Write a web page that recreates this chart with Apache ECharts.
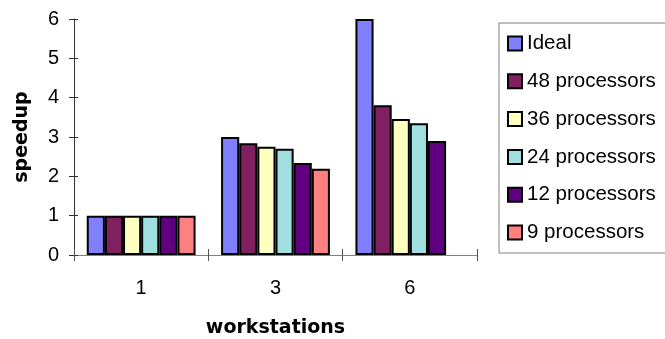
<!DOCTYPE html>
<html>
<head>
<meta charset="utf-8">
<script src="https://cdn.jsdelivr.net/npm/echarts@6/dist/echarts.min.js"></script>
<style>
  html, body { margin: 0; padding: 0; background: #fff; }
  #chart { width: 665px; height: 339px; }
</style>
</head>
<body>
<div id="chart"></div>
<script>
// Workstation counts on the x axis
const workstations = ['1', '3', '6'];

// Speedup per processor configuration
const ideal = [1, 3, 6];
const proc48 = [1, 2.84, 3.81];
const proc36 = [1, 2.75, 3.46];
const proc24 = [1, 2.70, 3.35];
const proc12 = [1, 2.34, 2.90];
const proc9 = [1, 2.19, null];

const seriesNames = ['Ideal', '48 processors', '36 processors', '24 processors', '12 processors', '9 processors'];
const seriesColors = ['#8080FF', '#802060', '#FFFFC0', '#A0E0E0', '#600080', '#FF8080'];
const seriesData = [ideal, proc48, proc36, proc24, proc12, proc9];

const yTicks = { min: 0, max: 6, interval: 1 };

const chart = echarts.init(document.getElementById('chart'), null, { renderer: 'canvas' });

const labelFont = '"Liberation Sans", Arial, sans-serif';
const nameFont = '"DejaVu Sans", sans-serif';

const option = {
  animation: false,
  backgroundColor: '#ffffff',
  grid: { left: 74, right: 188, top: 19, bottom: 84, containLabel: false, outerBoundsMode: 'none' },
  legend: {
    orient: 'vertical',
    left: 499,
    top: 23,
    padding: [10, 40, 10, 8],
    itemWidth: 14,
    itemHeight: 14,
    itemGap: 16.8,
    itemTextGap: 5,
    backgroundColor: '#ffffff',
    borderColor: '#808080',
    borderWidth: 1,
    borderRadius: 0,
    icon: 'rect',
    textStyle: { fontFamily: labelFont, fontSize: 20.5, color: '#000', lineHeight: 20 },
    data: seriesNames
  },
  xAxis: [
    {
      type: 'category',
      data: workstations,
      position: 'bottom',
      name: 'workstations',
      nameLocation: 'middle',
      nameGap: 64,
      nameTextStyle: { fontFamily: nameFont, fontWeight: 'bold', fontSize: 19, color: '#000' },
      axisLine: { lineStyle: { color: '#808080', width: 1 } },
      axisTick: { show: true, inside: false, length: 6, alignWithLabel: false, lineStyle: { color: '#555' } },
      axisLabel: { fontFamily: labelFont, fontSize: 20, color: '#000', margin: 23 },
      splitLine: { show: false }
    },
    {
      type: 'category',
      data: workstations,
      position: 'bottom',
      axisLine: { show: false },
      axisTick: { show: true, inside: true, length: 6, lineStyle: { color: '#555' } },
      axisLabel: { show: false },
      splitLine: { show: false }
    }
  ],
  yAxis: [
    {
      type: 'value',
      min: yTicks.min,
      max: yTicks.max,
      interval: yTicks.interval,
      position: 'left',
      name: 'speedup',
      nameLocation: 'middle',
      nameGap: 42,
      nameTextStyle: { fontFamily: nameFont, fontWeight: 'bold', fontSize: 19, color: '#000' },
      axisLine: { show: true, lineStyle: { color: '#333', width: 1 } },
      axisTick: { show: true, inside: false, length: 5, lineStyle: { color: '#333' } },
      axisLabel: { fontFamily: labelFont, fontSize: 20, color: '#000', margin: 15 },
      splitLine: { show: false }
    },
    {
      type: 'value',
      min: yTicks.min,
      max: yTicks.max,
      interval: yTicks.interval,
      position: 'left',
      axisLine: { show: false },
      axisTick: { show: true, inside: true, length: 4, lineStyle: { color: '#333' } },
      axisLabel: { show: false },
      splitLine: { show: false }
    }
  ],
  series: seriesNames.map((name, i) => ({
    name: name,
    type: 'bar',
    xAxisIndex: 0,
    yAxisIndex: 0,
    data: seriesData[i],
    barGap: '0%',
    barCategoryGap: '19%',
    itemStyle: { color: seriesColors[i], borderColor: '#000', borderWidth: 2 }
  }))
};

chart.setOption(option);
</script>
</body>
</html>
